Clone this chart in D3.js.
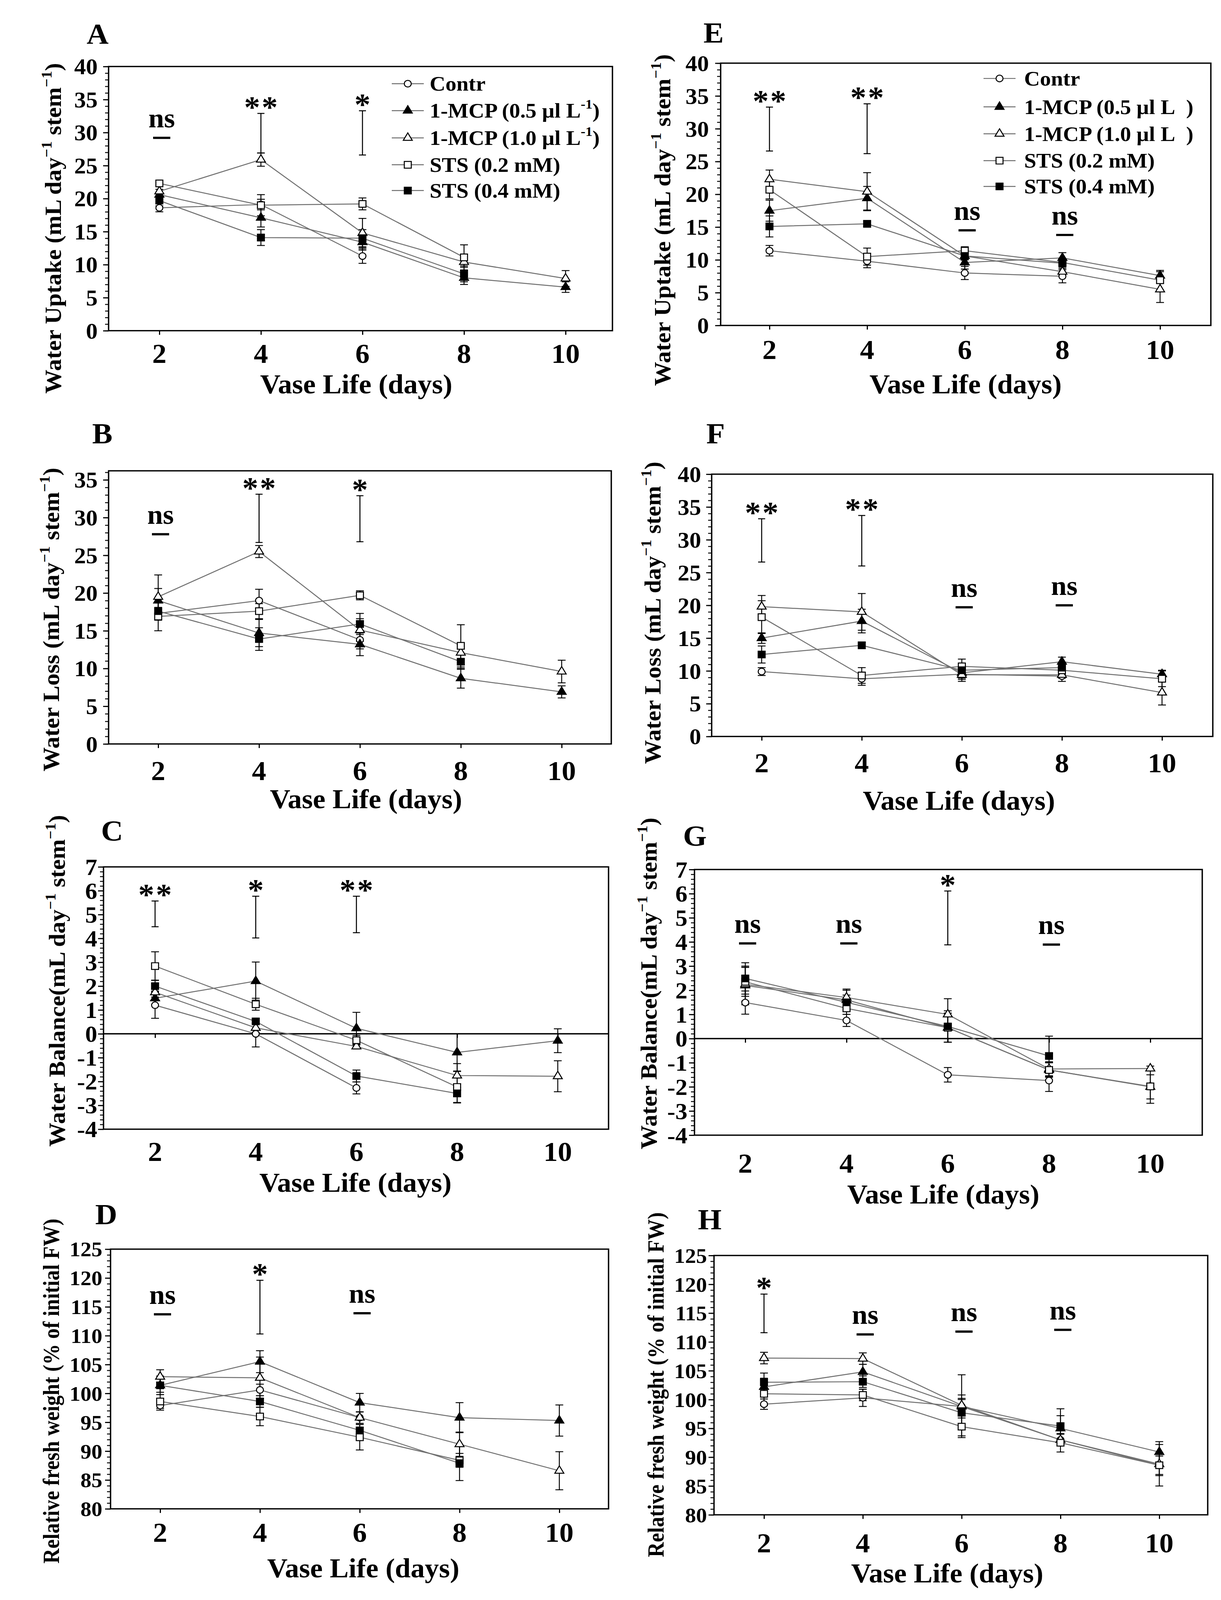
<!DOCTYPE html>
<html>
<head>
<meta charset="utf-8">
<script src="https://cdn.jsdelivr.net/npm/d3@7"></script>
<style>
  html, body { margin: 0; padding: 0; background: #fff; overflow: hidden; }
  svg { display: block; }
  text { font-family: "Liberation Serif", "Times New Roman", serif; font-weight: bold; fill: #000; }
</style>
</head>
<body>
<svg id="fig" viewBox="0 0 3126 4282" preserveAspectRatio="none" style="width:100vw;height:100vh"></svg>
<script>
// ---- data ----
// series order: Contr, 1-MCP 0.5, 1-MCP 1.0, STS 0.2, STS 0.4 ; days 2..10
var days = [2, 4, 6, 8, 10];
var seriesNames = ["Contr", "1-MCP (0.5 \u00b5l L", "1-MCP (1.0 \u00b5l L", "STS (0.2 mM)", "STS (0.4 mM)"];
var seriesSup = ["", "-1", "-1", "", ""];

var ticksUptake = [0, 5, 10, 15, 20, 25, 30, 35, 40];
var ticksLoss35 = [0, 5, 10, 15, 20, 25, 30, 35];
var ticksBalance = [-4, -3, -2, -1, 0, 1, 2, 3, 4, 5, 6, 7];
var ticksFresh = [80, 85, 90, 95, 100, 105, 110, 115, 120, 125];

var uptakeA = [
  [18.6, 19.1, 11.3, null, null],
  [20.6, 17.1, 13.4, 8.0, 6.6],
  [21.1, 25.9, 14.8, 10.4, 7.9],
  [22.3, 19.0, 19.2, 11.1, null],
  [19.7, 14.1, 14.0, 8.6, null]
];
var uptakeAErr = [
  [0.6, 0.8, 1.1, 0, 0],
  [0.8, 1.4, 1.2, 1.0, 0.8],
  [0.8, 1.0, 2.2, 0.8, 1.2],
  [0.5, 1.6, 0.9, 1.9, 0],
  [0.8, 1.2, 1.3, 1.2, 0]
];
var lsdA = [[4, 26.9, 32.9, "**"], [6, 26.6, 33.3, "*"]];
var nsA = [[2, 29.2]];

var lossB = [
  [17.3, 19.0, 13.8, null, null],
  [19.0, 14.7, 13.2, 8.7, 6.9],
  [19.5, 25.5, 15.1, 12.1, 9.6],
  [16.9, 17.6, 19.7, 13.0, null],
  [17.6, 13.9, 15.9, 10.9, null]
];
var lossBErr = [
  [0.8, 1.5, 1.2, 0, 0],
  [1.6, 1.8, 1.5, 1.3, 0.8],
  [2.9, 0.8, 1.5, 1.0, 1.5],
  [1.9, 1.0, 0.6, 2.8, 0],
  [1.2, 1.5, 1.4, 1.0, 0]
];
var lsdB = [[4, 26.7, 33.1, "**"], [6, 26.8, 32.9, "*"]];
var nsB = [[2, 27.8]];

var balanceC = [
  [1.2, 0.0, -2.27, null, null],
  [1.49, 2.21, 0.23, -0.78, -0.29],
  [1.74, 0.25, -0.53, -1.75, -1.78],
  [2.84, 1.24, -0.27, -2.23, null],
  [2.0, 0.52, -1.77, -2.5, null]
];
var balanceCErr = [
  [0.55, 0.55, 0.25, 0, 0],
  [0.3, 0.8, 0.67, 0.78, 0.5],
  [0.2, 0.2, 0.1, 0.5, 0.65],
  [0.6, 0.25, 0.2, 0.65, 0],
  [0.25, 0.1, 0.25, 0.4, 0]
];
var lsdC = [[2, 4.49, 5.57, "**"], [4, 4.02, 5.77, "*"], [6, 4.24, 5.77, "**"]];
var nsC = [];

var freshD = [
  [97.9, 100.6, 95.8, null, null],
  [101.4, 105.5, 98.4, 95.8, 95.3],
  [102.9, 102.7, 95.8, 91.2, 86.6],
  [98.6, 96.0, 92.4, 88.4, null],
  [101.4, 98.6, 93.6, 87.9, null]
];
var freshDErr = [
  [0.8, 1.0, 1.0, 0, 0],
  [1.6, 1.9, 1.6, 2.6, 2.7],
  [1.2, 3.6, 1.0, 2.1, 3.3],
  [1.2, 1.6, 2.2, 1.2, 0],
  [1.2, 1.0, 1.0, 3.0, 0]
];
var lsdD = [[4, 110.3, 119.6, "*"]];
var nsD = [[2, 113.7], [6, 113.9]];

var uptakeE = [
  [11.4, 9.8, 8.0, 7.5, null],
  [17.5, 19.4, 9.6, 10.3, 7.6],
  [22.3, 20.4, 10.6, 8.2, 5.5],
  [20.7, 10.5, 11.4, 9.6, 6.9],
  [15.1, 15.5, 10.6, 9.5, null]
];
var uptakeEErr = [
  [0.8, 1.0, 1.0, 1.0, 0],
  [1.6, 1.8, 1.0, 0.8, 0.6],
  [1.4, 2.9, 0.5, 0.5, 2.0],
  [1.4, 1.3, 0.6, 0.6, 1.5],
  [1.6, 0.5, 0.6, 0.6, 0]
];
var lsdE = [[2, 26.6, 33.3, "**"], [4, 26.2, 33.8, "**"]];
var nsE = [[6, 14.5], [8, 13.8]];

var lossF = [
  [9.9, 8.8, 9.5, 9.2, null],
  [15.0, 17.6, 9.7, 11.4, 9.5],
  [19.8, 19.0, 9.4, 9.4, 6.7],
  [18.2, 9.3, 10.7, 10.1, 8.8],
  [12.5, 13.9, 10.1, 10.5, null]
];
var lossFErr = [
  [0.6, 1.0, 0.8, 0.8, 0],
  [0.8, 1.8, 0.8, 0.7, 0.6],
  [1.7, 2.8, 1.0, 0.5, 1.9],
  [2.5, 1.2, 1.1, 0.6, 1.2],
  [1.3, 0.5, 0.8, 0.7, 0]
];
var lsdF = [[2, 26.6, 33.2, "**"], [4, 26.0, 33.7, "**"]];
var nsF = [[6, 19.7], [8, 20.0]];

var balanceG = [
  [1.49, 0.75, -1.5, -1.74, null],
  [2.2, 1.6, 0.45, -1.3, -2.0],
  [2.25, 1.7, 1.0, -1.26, -1.24],
  [2.35, 1.25, 0.45, -1.3, -1.98],
  [2.49, 1.5, 0.5, -0.72, null]
];
var balanceGErr = [
  [0.48, 0.25, 0.3, 0.45, 0],
  [0.8, 0.45, 0.6, 0.3, 0.5],
  [0.7, 0.3, 0.65, 0.3, 0.1],
  [0.6, 0.25, 0.6, 0.3, 0.7],
  [0.65, 0.3, 0.65, 0.82, 0]
];
var lsdG = [[6, 3.88, 6.11, "*"]];
var nsG = [[2, 3.94], [4, 3.94], [8, 3.89]];

var freshH = [
  [99.2, 100.3, 98.8, 93.0, 88.6],
  [102.2, 104.8, 98.8, 95.0, 90.9],
  [107.2, 107.1, 99.0, 93.0, 88.8],
  [101.0, 100.8, 95.3, 92.5, 88.6],
  [103.0, 103.1, 97.7, 95.4, null]
];
var freshHErr = [
  [0.9, 1.5, 1.2, 1.0, 1.6],
  [1.5, 1.3, 2.0, 2.2, 1.8],
  [1.0, 1.0, 5.3, 1.0, 2.0],
  [2.0, 1.0, 1.9, 1.6, 3.6],
  [1.6, 1.0, 2.5, 3.0, 0]
];
var lsdH = [[2, 111.6, 118.3, "*"]];
var nsH = [[4, 111.3], [6, 111.8], [8, 112.1]];

// ---- axis titles ----
var titleUptake = [["Water Uptake (mL day", 0], ["\u22121", 1], [" stem", 0], ["\u22121", 1], [")", 0]];
var titleLoss = [["Water Loss (mL day", 0], ["\u22121", 1], [" stem", 0], ["\u22121", 1], [")", 0]];
var titleBalance = [["Water Balance(mL day", 0], ["\u22121", 1], [" stem", 0], ["\u22121", 1], [")", 0]];
var titleFresh = [["Relative fresh weight (% of initial FW)", 0]];

// ---- layout ----
var panels = [
  { letter: "A", mean: uptakeA, err: uptakeAErr, lsd: lsdA, ns: nsA, yDom: [0, 40], yTicks: ticksUptake, minor: 1,
    frame: [278, 1568, 178, 885], x2: 408, x10: 1448, lp: [250, 117], xLab: 971, xTitle: [912, 1053],
    gap: 28, tf: 60, yTitle: titleUptake, yt: [135, 611, 885],
    legend: { x0: 1003, x1: 1085, tx: 1100, rows: [224, 296, 369, 441, 510], sup: true } },
  { letter: "B", mean: lossB, err: lossBErr, lsd: lsdB, ns: nsB, yDom: [0, 36.2], yTicks: ticksLoss35, minor: 1,
    frame: [278, 1565, 1260, 1991], x2: 405, x10: 1438, lp: [262, 1187], xLab: 2088, xTitle: [937, 2163],
    gap: 28, tf: 60, yTitle: titleLoss, yt: [130, 1658, 813] },
  { letter: "C", mean: balanceC, err: balanceCErr, lsd: lsdC, ns: nsC, yDom: [-4, 7], yTicks: ticksBalance, minor: 0.2,
    frame: [265, 1558, 2320, 3022], x2: 397, x10: 1428, lp: [287, 2250], xLab: 3107, xTitle: [910, 3190],
    gap: 16, tf: 62, yTitle: titleBalance, yt: [145, 2625, 888] },
  { letter: "D", mean: freshD, err: freshDErr, lsd: lsdD, ns: nsD, yDom: [80, 125], yTicks: ticksFresh, minor: 1,
    frame: [283, 1558, 3343, 4038], x2: 410, x10: 1432, lp: [272, 3276], xLab: 4126, xTitle: [930, 4221],
    gap: 21, tf: 56, yTitle: titleFresh, yt: [130, 3723, 923] },
  { letter: "E", mean: uptakeE, err: uptakeEErr, lsd: lsdE, ns: nsE, yDom: [0, 40], yTicks: ticksUptake, minor: 1,
    frame: [1845, 3100, 169, 871], x2: 1970, x10: 2970, lp: [1827, 114], xLab: 961, xTitle: [2472, 1053],
    gap: 30, tf: 60, yTitle: titleUptake, yt: [1695, 589, 888],
    legend: { x0: 2518, x1: 2600, tx: 2622, rows: [210, 286, 358, 430, 499], sup: false } },
  { letter: "F", mean: lossF, err: lossFErr, lsd: lsdF, ns: nsF, yDom: [0, 40], yTicks: ticksUptake, minor: 1,
    frame: [1822, 3105, 1269, 1971], x2: 1950, x10: 2975, lp: [1832, 1187], xLab: 2067, xTitle: [2455, 2167],
    gap: 27, tf: 60, yTitle: titleLoss, yt: [1670, 1640, 809] },
  { letter: "G", mean: balanceG, err: balanceGErr, lsd: lsdG, ns: nsG, yDom: [-4, 7], yTicks: ticksBalance, minor: 0.2,
    frame: [1778, 3078, 2327, 3038], x2: 1908, x10: 2945, lp: [1779, 2263], xLab: 3138, xTitle: [2415, 3221],
    gap: 18, tf: 62, yTitle: titleBalance, yt: [1660, 2632, 888] },
  { letter: "H", mean: freshH, err: freshHErr, lsd: lsdH, ns: nsH, yDom: [80, 125], yTicks: ticksFresh, minor: 1,
    frame: [1828, 3092, 3360, 4054], x2: 1956, x10: 2968, lp: [1817, 3290], xLab: 4154, xTitle: [2425, 4235],
    gap: 18, tf: 56, yTitle: titleFresh, yt: [1678, 3706, 923] }
];

var shapes = [d3.symbolCircle, d3.symbolTriangle, d3.symbolTriangle, d3.symbolSquare, d3.symbolSquare];
var fills = ["#fff", "#000", "#fff", "#fff", "#000"];
var sizes = [250, 230, 230, 320, 320];
var lineGrey = "#6f6f6f";

var svg = d3.select("#fig");
svg.append("rect").attr("width", 3126).attr("height", 4282).attr("fill", "#fff");

function fmt(d) { return d < 0 ? "-" + Math.abs(d) : String(d); }

function fitText(g, target, transform) {
  var w = g.node().getBBox().width;
  var k = w > 0 ? target / w : 1;
  g.attr("transform", transform + " scale(" + k + ",1)");
}

function drawPanel(p) {
  var g = svg.append("g");
  var L = p.frame[0], R = p.frame[1], T = p.frame[2], B = p.frame[3];
  var x = d3.scaleLinear().domain([2, 10]).range([p.x2, p.x10]);
  var y = d3.scaleLinear().domain(p.yDom).range([B, T]);

  // minor y ticks
  var n = Math.round((p.yDom[1] - p.yDom[0]) / p.minor);
  var minorVals = d3.range(0, n + 1).map(function (i) { return p.yDom[0] + i * p.minor; })
    .filter(function (v) { return v <= p.yDom[1] + 1e-9; });
  var ym = g.append("g").attr("transform", "translate(" + L + ",0)")
    .call(d3.axisLeft(y).tickValues(minorVals).tickSize(9).tickFormat(""));
  ym.select(".domain").remove();
  ym.selectAll("line").attr("stroke", "#000").attr("stroke-width", 2.5);

  var yM = g.append("g").attr("transform", "translate(" + L + ",0)")
    .call(d3.axisLeft(y).tickValues(p.yTicks).tickSize(14).tickPadding(p.gap - 14).tickFormat(fmt));
  yM.select(".domain").remove();
  yM.attr("font-family", null).attr("font-size", null);
  yM.selectAll("line").attr("stroke", "#000").attr("stroke-width", 3);
  yM.selectAll("text").style("font-size", p.tf + "px").attr("dy", "0.34em");

  // x ticks (on zero line for balance panels)
  var xAxisY = p.yDom[0] < 0 ? y(0) : B;
  var xa = g.append("g").attr("transform", "translate(0," + xAxisY + ")")
    .call(d3.axisBottom(x).tickValues(days).tickSize(11).tickFormat(""));
  xa.select(".domain").remove();
  xa.selectAll("line").attr("stroke", "#000").attr("stroke-width", 3);

  g.selectAll(".xlab").data(days).join("text")
    .attr("x", function (d) { return x(d); }).attr("y", p.xLab)
    .attr("text-anchor", "middle").style("font-size", "73px")
    .text(function (d) { return d; });

  // frame
  g.append("rect").attr("x", L).attr("y", T).attr("width", R - L).attr("height", B - T)
    .attr("fill", "none").attr("stroke", "#000").attr("stroke-width", 3.5);
  if (p.yDom[0] < 0) {
    g.append("line").attr("x1", L).attr("x2", R).attr("y1", y(0)).attr("y2", y(0))
      .attr("stroke", "#000").attr("stroke-width", 3.5);
  }

  var series = p.mean.map(function (row, i) {
    return row.map(function (v, j) { return { day: days[j], v: v, e: p.err[i][j], s: i }; });
  });

  var line = d3.line()
    .defined(function (d) { return d.v != null; })
    .x(function (d) { return x(d.day); })
    .y(function (d) { return y(d.v); });

  g.selectAll(".ser").data(series).join("path")
    .attr("d", line).attr("fill", "none")
    .attr("stroke", lineGrey).attr("stroke-width", 2.6);

  var pts = [].concat.apply([], series).filter(function (d) { return d.v != null; });

  // error bars
  var eb = g.append("g").attr("stroke", "#000").attr("stroke-width", 2.4);
  pts.filter(function (d) { return d.e > 0; }).forEach(function (d) {
    var cx = x(d.day), y0 = y(d.v - d.e), y1 = y(d.v + d.e);
    eb.append("line").attr("x1", cx).attr("x2", cx).attr("y1", y0).attr("y2", y1);
    eb.append("line").attr("x1", cx - 10).attr("x2", cx + 10).attr("y1", y0).attr("y2", y0);
    eb.append("line").attr("x1", cx - 10).attr("x2", cx + 10).attr("y1", y1).attr("y2", y1);
  });

  // markers
  g.selectAll(".mk").data(pts).join("path")
    .attr("transform", function (d) { return "translate(" + x(d.day) + "," + y(d.v) + ")"; })
    .attr("d", function (d) { return d3.symbol().type(shapes[d.s]).size(sizes[d.s])(); })
    .attr("fill", function (d) { return fills[d.s]; })
    .attr("stroke", "#000").attr("stroke-width", 2.6);

  // LSD bars with significance stars
  p.lsd.forEach(function (b) {
    var cx = x(b[0]), ylo = y(b[1]), yhi = y(b[2]);
    var lg = g.append("g").attr("stroke", "#000").attr("stroke-width", 2.6);
    lg.append("line").attr("x1", cx).attr("x2", cx).attr("y1", ylo).attr("y2", yhi);
    lg.append("line").attr("x1", cx - 9).attr("x2", cx + 9).attr("y1", ylo).attr("y2", ylo);
    lg.append("line").attr("x1", cx - 9).attr("x2", cx + 9).attr("y1", yhi).attr("y2", yhi);
    g.append("text").attr("x", cx + 2).attr("y", yhi + 10)
      .attr("text-anchor", "middle").style("font-size", "82px").style("letter-spacing", "4px")
      .text(b[3]);
  });

  // ns marks
  p.ns.forEach(function (s) {
    var cx = x(s[0]) + 6, yy = y(s[1]);
    g.append("line").attr("x1", cx - 22).attr("x2", cx + 22).attr("y1", yy).attr("y2", yy)
      .attr("stroke", "#000").attr("stroke-width", 6);
    g.append("text").attr("x", cx).attr("y", yy - 28)
      .attr("text-anchor", "middle").style("font-size", "72px").text("ns");
  });

  // panel letter
  g.append("text").attr("x", p.lp[0]).attr("y", p.lp[1])
    .attr("text-anchor", "middle").style("font-size", "78px").text(p.letter);

  // x title
  var xt = g.append("g");
  xt.append("text").attr("text-anchor", "middle").style("font-size", "72px").text("Vase Life (days)");
  fitText(xt, 492, "translate(" + p.xTitle[0] + "," + p.xTitle[1] + ")");

  // y title
  var ytg = g.append("g");
  var yt = ytg.append("text").attr("text-anchor", "middle").attr("dy", "0.35em").style("font-size", "60px");
  var shifted = false;
  p.yTitle.forEach(function (seg) {
    var ts = yt.append("tspan").text(seg[0]);
    if (seg[1]) {
      ts.style("font-size", "38px").attr("dy", shifted ? 0 : -24);
      shifted = true;
    } else if (shifted) {
      ts.attr("dy", 24);
      shifted = false;
    }
  });
  fitText(ytg, p.yt[2], "translate(" + p.yt[0] + "," + p.yt[1] + ") rotate(-90)");

  // legend
  if (p.legend) {
    var lgd = p.legend;
    seriesNames.forEach(function (name, i) {
      var cy = lgd.rows[i];
      g.append("line").attr("x1", lgd.x0).attr("x2", lgd.x1).attr("y1", cy).attr("y2", cy)
        .attr("stroke", lineGrey).attr("stroke-width", 2.6);
      g.append("path").attr("transform", "translate(" + ((lgd.x0 + lgd.x1) / 2) + "," + cy + ")")
        .attr("d", d3.symbol().type(shapes[i]).size(sizes[i])())
        .attr("fill", fills[i]).attr("stroke", "#000").attr("stroke-width", 2.6);
      var t = g.append("text").attr("x", lgd.tx).attr("y", cy + 19)
        .style("font-size", "56px").style("white-space", "pre");
      t.append("tspan").text(name);
      if (seriesSup[i]) {
        if (lgd.sup) {
          t.append("tspan").attr("dy", -24).style("font-size", "36px").text(seriesSup[i]);
          t.append("tspan").attr("dy", 24).text(")");
        } else {
          t.append("tspan").text("  )");
        }
      }
    });
  }
}

panels.forEach(drawPanel);
</script>
</body>
</html>
